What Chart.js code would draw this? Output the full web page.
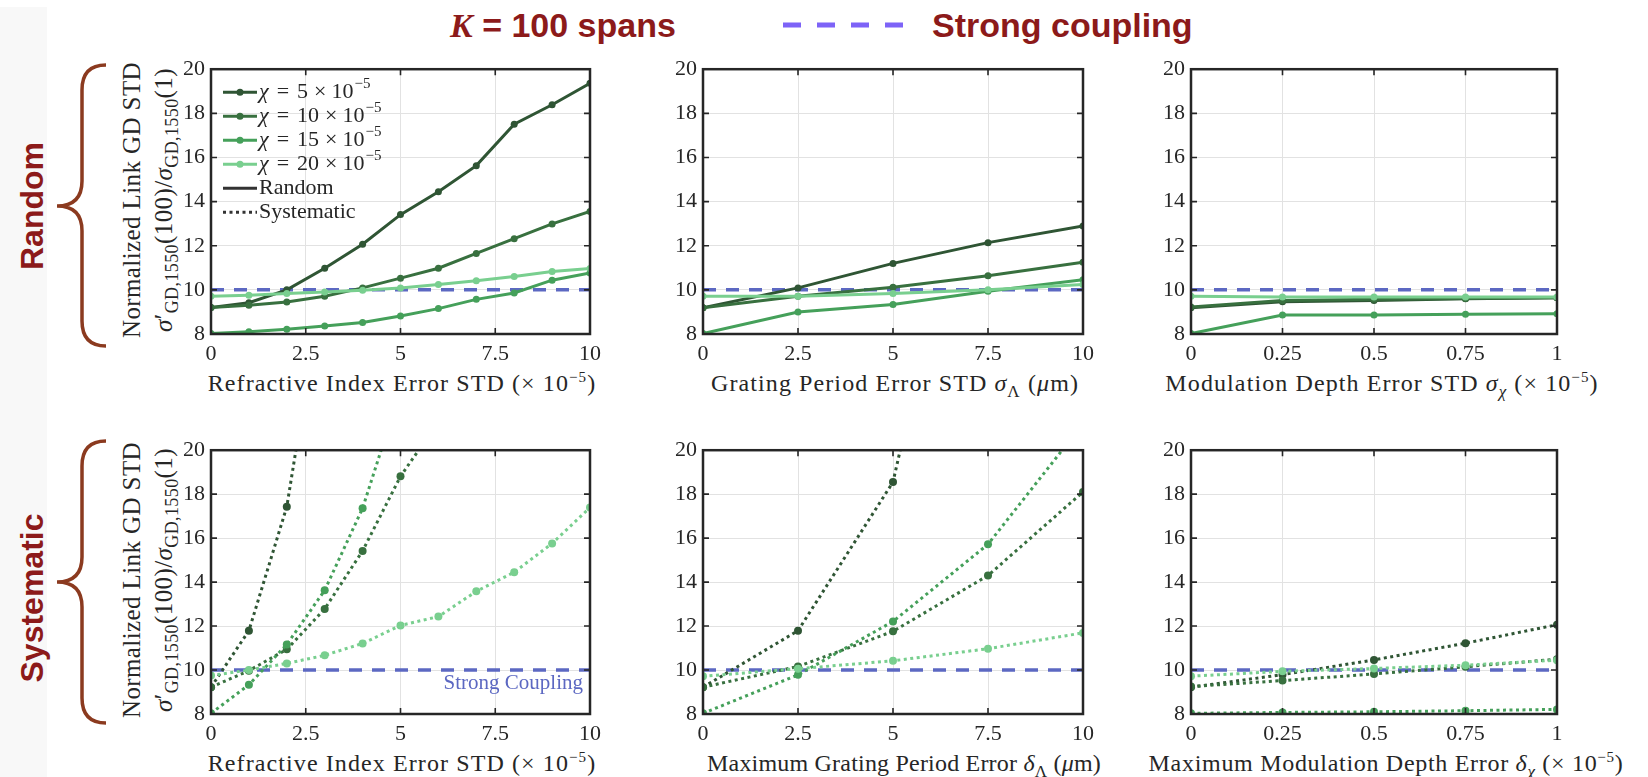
<!DOCTYPE html>
<html>
<head>
<meta charset="utf-8">
<script src="https://cdn.jsdelivr.net/npm/chart.js@4.4.0/dist/chart.umd.min.js"></script>
<style>
  body { margin: 0; width: 1648px; height: 777px; position: relative; overflow: hidden; background: #fff;
         font-family: "Liberation Serif", serif; color: #262626; }
  .strip { position: absolute; left: 0; top: 7px; width: 47px; height: 770px; background: #f8f8f8; }
  .plot { position: absolute; }
  .hdr { position: absolute; top: 5px; font-family: "Liberation Sans", Arial, sans-serif; font-weight: bold;
         font-size: 34px; line-height: 40px; color: #8c1a1a; white-space: nowrap; }
  .hdr .k { font-family: "Liberation Serif", serif; font-style: italic; }
  .side { position: absolute; font-family: "Liberation Sans", Arial, sans-serif; font-weight: bold; font-size: 32px;
          line-height: 32px; color: #8c1a1a; white-space: nowrap; transform: translate(-50%, -50%) rotate(-90deg); }
  .xt { position: absolute; transform: translate(-50%, -50%); white-space: nowrap; font-size: 24px; line-height: 26px;
        letter-spacing: 1.1px; }
  .xt.tight { letter-spacing: 0.2px; }
  .xt.mid { letter-spacing: 0.7px; }
  .yt { position: absolute; transform: translate(-50%, -50%) rotate(-90deg); white-space: nowrap; text-align: center;
        font-size: 25px; line-height: 32px; letter-spacing: 0.4px; }
  .yt sub { font-size: 18px; }
  sup { font-size: 15px; line-height: 0; vertical-align: 9px; }
  sub { font-size: 17px; line-height: 0; vertical-align: -6px; }
  svg.deco { position: absolute; left: 0; top: 0; }
</style>
</head>
<body>
<div class="strip"></div>

<div class="hdr" style="left:450px"><span class="k">K</span> = 100 spans</div>
<div class="hdr" style="left:932px">Strong coupling</div>

<svg class="deco" width="1648" height="777">
  <line x1="783" y1="25" x2="903" y2="25" stroke="#7d63f7" stroke-width="5" stroke-dasharray="18 16"/>
  <path d="M106 65 Q82 65 82 90 L82 181 Q82 206 57 206 Q82 206 82 231 L82 321 Q82 346 106 346"
        fill="none" stroke="#8b3a1f" stroke-width="3.5"/>
  <path d="M106 441 Q82 441 82 466 L82 557 Q82 582 57 582 Q82 582 82 607 L82 698 Q82 723 106 723"
        fill="none" stroke="#8b3a1f" stroke-width="3.5"/>
</svg>

<div class="side" style="left:32px; top:206px">Random</div>
<div class="side" style="left:32px; top:598px">Systematic</div>

<div class="yt" style="left:148px; top:200px">Normalized Link GD STD<br><i>σ</i>′<sub>GD,1550</sub>(100)/<i>σ</i><sub>GD,1550</sub>(1)</div>
<div class="yt" style="left:148px; top:580px">Normalized Link GD STD<br><i>σ</i>′<sub>GD,1550</sub>(100)/<i>σ</i><sub>GD,1550</sub>(1)</div>

<div class="xt" style="left:402px; top:383px">Refractive Index Error STD (× 10<sup>−5</sup>)</div>
<div class="xt" style="left:895px; top:383px">Grating Period Error STD <i>σ</i><sub>Λ</sub> (<i>μ</i>m)</div>
<div class="xt" style="left:1382px; top:383px">Modulation Depth Error STD <i>σ</i><sub><i>χ</i></sub> (× 10<sup>−5</sup>)</div>
<div class="xt" style="left:402px; top:763px">Refractive Index Error STD (× 10<sup>−5</sup>)</div>
<div class="xt tight" style="left:904px; top:763px">Maximum Grating Period Error <i>δ</i><sub>Λ</sub> (<i>μ</i>m)</div>
<div class="xt mid" style="left:1386px; top:763px">Maximum Modulation Depth Error <i>δ</i><sub><i>χ</i></sub> (× 10<sup>−5</sup>)</div>

<script>
// x positions for each column
const xRefIndex = [0, 1, 2, 3, 4, 5, 6, 7, 8, 9, 10];
const xGrating = [0, 2.5, 5, 7.5, 10];
const xModDepth = [0, 0.25, 0.5, 0.75, 1];

// tick labels
const xTicksWide = [0, 2.5, 5, 7.5, 10];
const xTicksUnit = [0, 0.25, 0.5, 0.75, 1];
const yTicks = [8, 10, 12, 14, 16, 18, 20];

const chiVals = [5, 10, 15, 20];
const strongLevel = 10;

// random errors
const rndRef5 = [9.2, 9.42, 10.0, 10.98, 12.07, 13.41, 14.45, 15.63, 17.51, 18.39, 19.36];
const rndRef10 = [9.2, 9.3, 9.45, 9.71, 10.09, 10.53, 10.98, 11.65, 12.32, 12.99, 13.55];
const rndRef15 = [8.02, 8.1, 8.21, 8.36, 8.52, 8.82, 9.15, 9.57, 9.86, 10.44, 10.76];
const rndRef20 = [9.71, 9.76, 9.83, 9.9, 9.98, 10.09, 10.24, 10.41, 10.61, 10.83, 10.97];

const rndGrat5 = [9.19, 10.09, 11.2, 12.14, 12.89];
const rndGrat10 = [9.19, 9.71, 10.12, 10.64, 11.25];
const rndGrat15 = [8.02, 9.0, 9.34, 9.94, 10.46];
const rndGrat20 = [9.71, 9.71, 9.83, 10.01, 10.24];

const rndMod5 = [9.19, 9.46, 9.52, 9.6, 9.64];
const rndMod10 = [9.22, 9.52, 9.57, 9.61, 9.64];
const rndMod15 = [8.02, 8.86, 8.86, 8.89, 8.92];
const rndMod20 = [9.71, 9.68, 9.68, 9.68, 9.68];

// systematic errors (last points run above the axis top)
const sysRef5 = [9.22, 11.79, 17.43, 28.1];
const sysRef10 = [9.22, 9.97, 10.94, 12.78, 15.42, 18.81, 21.3];
const sysRef15 = [8.03, 9.33, 11.16, 13.63, 17.36, 22.75];
const sysRef20 = [9.75, 10.0, 10.3, 10.67, 11.21, 12.03, 12.43, 13.58, 14.45, 15.76, 17.39];

const sysGrat5 = [9.22, 11.79, 18.55, 37.6];
const sysGrat10 = [9.22, 10.16, 11.76, 14.3, 18.1];
const sysGrat15 = [8.03, 9.78, 12.21, 15.72, 21.2];
const sysGrat20 = [9.72, 10.06, 10.42, 10.97, 11.69];

const sysMod5 = [9.22, 9.79, 10.46, 11.22, 12.06];
const sysMod10 = [9.25, 9.52, 9.82, 10.15, 10.49];
const sysMod15 = [8.03, 8.07, 8.1, 8.15, 8.21];
const sysMod20 = [9.72, 9.94, 10.07, 10.22, 10.45];

const greens = ['#2f5534', '#38703f', '#45a05a', '#79cf8f'];
const ink = '#262626';
const couplingBlue = '#5c68c2';
const dotDash = [3, 3.5];

Chart.defaults.font.family = "'Liberation Serif', serif";
Chart.defaults.color = ink;

function series(xs, ys, color, dotted, order) {
  const pts = ys.map((y, i) => ({ x: xs[i], y: y }));
  return {
    data: pts,
    borderColor: color,
    backgroundColor: color,
    borderWidth: 3,
    borderDash: dotted ? dotDash : [],
    borderCapStyle: 'butt',
    pointRadius: dotted ? 4 : 3.5,
    pointBorderWidth: 0,
    pointBackgroundColor: color,
    tension: 0,
    order: order
  };
}

function couplingLine(xs) {
  return {
    data: [{ x: xs[0], y: strongLevel }, { x: xs[xs.length - 1], y: strongLevel }],
    borderColor: couplingBlue,
    borderWidth: 3.5,
    borderDash: [13, 10],
    pointRadius: 0,
    order: 10
  };
}

// box around the axes with inward ticks on all four sides
const frame = {
  id: 'frame',
  afterDatasetsDraw(chart) {
    const { ctx, chartArea: a, scales: { x, y } } = chart;
    ctx.save();
    ctx.strokeStyle = ink;
    ctx.lineWidth = 1.6;
    ctx.beginPath();
    x.ticks.forEach(t => {
      const px = x.getPixelForValue(t.value);
      ctx.moveTo(px, a.bottom); ctx.lineTo(px, a.bottom - 6);
      ctx.moveTo(px, a.top); ctx.lineTo(px, a.top + 6);
    });
    y.ticks.forEach(t => {
      const py = y.getPixelForValue(t.value);
      ctx.moveTo(a.left, py); ctx.lineTo(a.left + 6, py);
      ctx.moveTo(a.right, py); ctx.lineTo(a.right - 6, py);
    });
    ctx.stroke();
    ctx.lineWidth = 2.5;
    ctx.strokeRect(a.left, a.top, a.right - a.left, a.bottom - a.top);
    ctx.restore();
  }
};

const legendRows = chiVals.map((c, i) => ({ chi: c, color: greens[i], marker: true, dotted: false }))
  .concat([{ text: 'Random', color: '#333333', marker: false, dotted: false },
           { text: 'Systematic', color: '#333333', marker: false, dotted: true }]);

const legendBox = {
  id: 'legendBox',
  afterDraw(chart) {
    const { ctx, chartArea: a } = chart;
    ctx.save();
    ctx.textBaseline = 'middle';
    const put = (str, font, x, y, gap) => {
      ctx.font = font;
      ctx.fillText(str, x, y);
      return x + ctx.measureText(str).width + gap;
    };
    legendRows.forEach((row, i) => {
      const y = a.top + 23 + i * 24;
      const x0 = a.left + 12, x1 = a.left + 46;
      ctx.strokeStyle = row.color;
      ctx.lineWidth = 3;
      ctx.setLineDash(row.dotted ? dotDash : []);
      ctx.beginPath(); ctx.moveTo(x0, y); ctx.lineTo(x1, y); ctx.stroke();
      ctx.setLineDash([]);
      if (row.marker) {
        ctx.fillStyle = row.color;
        ctx.beginPath(); ctx.arc((x0 + x1) / 2, y, 3.5, 0, Math.PI * 2); ctx.fill();
      }
      ctx.fillStyle = ink;
      const reg = "22px 'Liberation Serif'";
      let tx = a.left + 48;
      if (row.chi !== undefined) {
        tx = put('χ', "italic 22px 'Liberation Serif'", tx, y, 8);
        tx = put('=', reg, tx, y, 8);
        tx = put(String(row.chi), reg, tx, y, 6);
        tx = put('×', reg, tx, y, 5);
        tx = put('10', reg, tx, y, 1);
        put('−5', "15px 'Liberation Serif'", tx, y - 8, 0);
      } else {
        put(row.text, reg, tx, y, 0);
      }
    });
    ctx.restore();
  }
};

const couplingNote = {
  id: 'couplingNote',
  afterDatasetsDraw(chart) {
    const { ctx, chartArea: a, scales: { y } } = chart;
    ctx.save();
    ctx.font = "21px 'Liberation Serif'";
    ctx.fillStyle = couplingBlue;
    ctx.textAlign = 'right';
    ctx.textBaseline = 'middle';
    ctx.fillText('Strong Coupling', a.right - 7, y.getPixelForValue(strongLevel) + 13);
    ctx.restore();
  }
};

// axes box on the page: left, top, right, bottom
function panel(box, xs, xTicks, sets, dotted, extra) {
  const [L, T, R, B] = box;
  const cv = document.createElement('canvas');
  cv.className = 'plot';
  cv.width = R - L + 85;
  cv.height = B - T + 60;
  cv.style.left = (L - 70) + 'px';
  cv.style.top = (T - 15) + 'px';
  document.body.appendChild(cv);

  const datasets = [couplingLine(xs)];
  sets.forEach((ys, i) => datasets.push(series(xs, ys, greens[i], dotted, 4 - i)));

  new Chart(cv, {
    type: 'line',
    data: { datasets },
    options: {
      responsive: false,
      animation: false,
      layout: { padding: { left: 0, top: 15, right: 15, bottom: 0 } },
      plugins: { legend: { display: false }, tooltip: { enabled: false } },
      scales: {
        x: {
          type: 'linear',
          min: xTicks[0], max: xTicks[xTicks.length - 1],
          afterBuildTicks: s => { s.ticks = xTicks.map(v => ({ value: v })); },
          afterFit: s => { s.height = 45; },
          ticks: { font: { size: 22 }, color: ink, padding: 7, maxRotation: 0, callback: v => String(v) },
          grid: { color: '#e2e2e2', lineWidth: 1, drawTicks: false },
          border: { display: false }
        },
        y: {
          min: yTicks[0], max: yTicks[yTicks.length - 1],
          afterBuildTicks: s => { s.ticks = yTicks.map(v => ({ value: v })); },
          afterFit: s => { s.width = 70; },
          ticks: { font: { size: 22 }, color: ink, padding: 6, callback: v => String(v) },
          grid: { color: '#e2e2e2', lineWidth: 1, drawTicks: false },
          border: { display: false }
        }
      }
    },
    plugins: [frame].concat(extra || [])
  });
}

panel([211, 65, 593, 334], xRefIndex, xTicksWide, [rndRef5, rndRef10, rndRef15, rndRef20], false, [legendBox]);
panel([703, 65, 1086, 334], xGrating, xTicksWide, [rndGrat5, rndGrat10, rndGrat15, rndGrat20], false);
panel([1191, 65, 1557, 334], xModDepth, xTicksUnit, [rndMod5, rndMod10, rndMod15, rndMod20], false);
panel([211, 446, 593, 714], xRefIndex, xTicksWide, [sysRef5, sysRef10, sysRef15, sysRef20], true, [couplingNote]);
panel([703, 446, 1086, 714], xGrating, xTicksWide, [sysGrat5, sysGrat10, sysGrat15, sysGrat20], true);
panel([1191, 446, 1557, 714], xModDepth, xTicksUnit, [sysMod5, sysMod10, sysMod15, sysMod20], true);
</script>
</body>
</html>
